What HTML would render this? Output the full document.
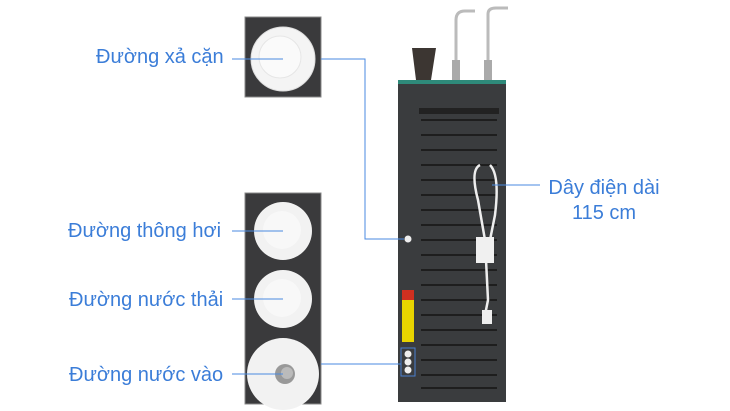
<!DOCTYPE html>
<html><head><meta charset="utf-8"><style>
body{margin:0;width:730px;height:411px;background:#fff;position:relative;overflow:hidden;font-family:"Liberation Sans",sans-serif}
.t{position:absolute;color:#3b7dd8;font-size:20px;white-space:nowrap;line-height:1}
</style></head><body>
<svg width="730" height="411" style="position:absolute;left:0;top:0">
<rect x="245" y="17" width="76" height="80" fill="#3a3a3c" stroke="#888"/>
<rect x="245" y="193" width="76" height="211" fill="#3a3a3c" stroke="#888"/>
<circle cx="283" cy="59" r="32" fill="#f4f4f4" stroke="#ddd"/>
<circle cx="280" cy="57" r="21" fill="#fafafa" stroke="#e6e6e6"/>
<circle cx="283" cy="231" r="29" fill="#f2f2f2"/><circle cx="282" cy="230" r="19" fill="#f8f8f8"/>
<circle cx="283" cy="299" r="29" fill="#f2f2f2"/><circle cx="282" cy="298" r="19" fill="#f8f8f8"/>
<circle cx="283" cy="374" r="36" fill="#f2f2f2"/><circle cx="285" cy="374" r="10" fill="#999"/><circle cx="287" cy="373" r="6" fill="#bbb"/>
<!-- cabinet -->
<polygon points="412,48 436,48 431,80 416,80" fill="#3c3632"/>
<path d="M456 80 V20 Q456 11 465 11 H475" stroke="#bbb" stroke-width="3" fill="none"/>
<path d="M488 80 V14 Q488 8 496 8 H508" stroke="#bbb" stroke-width="3" fill="none"/>
<rect x="452" y="60" width="8" height="20" fill="#aaa"/><rect x="484" y="60" width="8" height="20" fill="#aaa"/>
<rect x="398" y="81" width="108" height="321" fill="#3a3c3e"/>
<rect x="398" y="80" width="108" height="4" fill="#2e8a7a"/>
<rect x="419" y="108" width="80" height="6" fill="#222"/>
<g stroke="#1e1e1e" stroke-width="2">
<line x1="421" y1="120" x2="497" y2="120"/><line x1="421" y1="135" x2="497" y2="135"/><line x1="421" y1="150" x2="497" y2="150"/><line x1="421" y1="165" x2="497" y2="165"/><line x1="421" y1="180" x2="497" y2="180"/><line x1="421" y1="195" x2="497" y2="195"/><line x1="421" y1="210" x2="497" y2="210"/><line x1="421" y1="225" x2="497" y2="225"/><line x1="421" y1="240" x2="497" y2="240"/><line x1="421" y1="255" x2="497" y2="255"/><line x1="421" y1="270" x2="497" y2="270"/><line x1="421" y1="285" x2="497" y2="285"/><line x1="421" y1="300" x2="497" y2="300"/><line x1="421" y1="315" x2="497" y2="315"/><line x1="421" y1="330" x2="497" y2="330"/><line x1="421" y1="345" x2="497" y2="345"/><line x1="421" y1="360" x2="497" y2="360"/><line x1="421" y1="375" x2="497" y2="375"/><line x1="421" y1="388" x2="497" y2="388"/>
</g>
<path d="M480 165 Q470 170 478 200 L485 240 L488 300 L484 320 M490 165 Q500 175 495 215 L490 240" stroke="#eee" stroke-width="2.5" fill="none"/>
<rect x="476" y="237" width="18" height="26" fill="#f0f0f0"/>
<rect x="482" y="310" width="10" height="14" fill="#eee"/>
<rect x="402" y="290" width="12" height="52" fill="#e8d400"/><rect x="402" y="290" width="12" height="10" fill="#d03020"/>
<rect x="401" y="348" width="14" height="28" fill="none" stroke="#4a7fd0"/>
<circle cx="408" cy="354" r="3.5" fill="#eee"/><circle cx="408" cy="362" r="3.5" fill="#eee"/><circle cx="408" cy="370" r="3.5" fill="#eee"/>
<circle cx="408" cy="239" r="3.5" fill="#eee"/>
<!-- leaders -->
<g stroke="#4a8ae0" stroke-width="1" fill="none">
<path d="M232 59 H283 M321 59 H365 V239 H404"/>
<path d="M232 231 H283"/><path d="M232 299 H283"/><path d="M232 374 H283 M321 364 H401"/>
<path d="M492 185 H540"/>
</g>
</svg>
<div class="t" style="left:96px;top:47px">Đường xả cặn</div>
<div class="t" style="left:68px;top:221px">Đường thông hơi</div>
<div class="t" style="left:69px;top:290px">Đường nước thải</div>
<div class="t" style="left:69px;top:365px">Đường nước vào</div>
<div class="t" style="left:546px;top:176px;text-align:center;width:116px;line-height:25px">Dây điện dài<br>115 cm</div>
</body></html>
